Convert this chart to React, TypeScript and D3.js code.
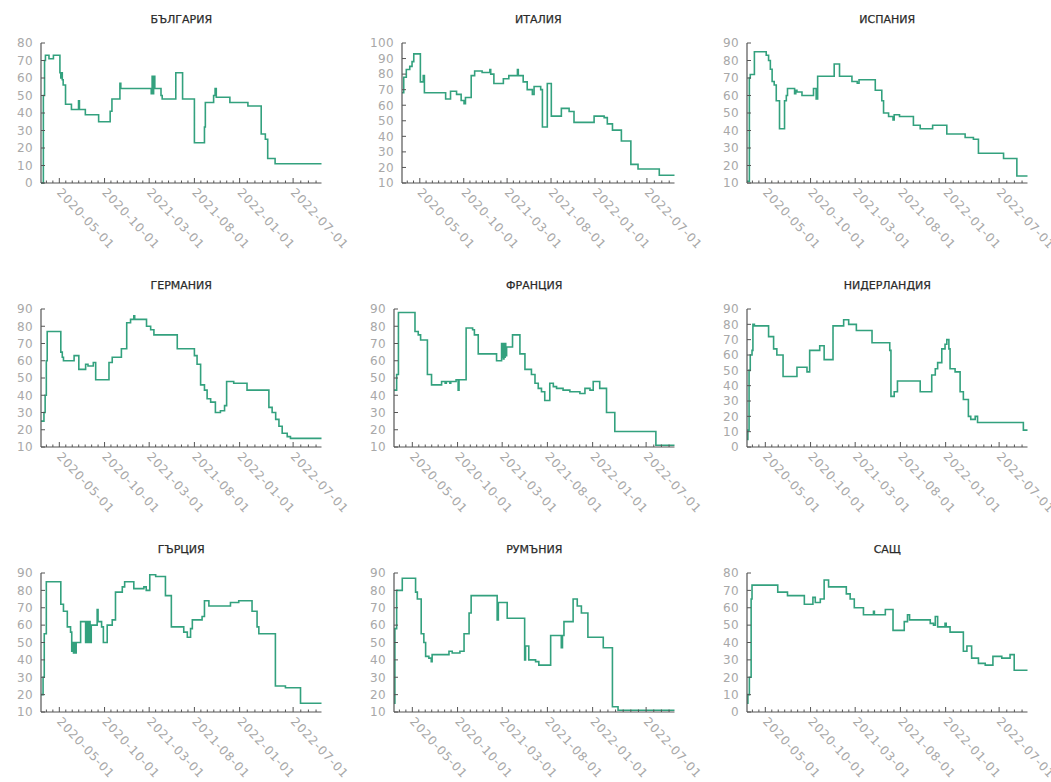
import React from 'react';
import * as d3 from 'd3';

type Pt = [string, number];

const COUNTRIES = ['БЪЛГАРИЯ', 'ИТАЛИЯ', 'ИСПАНИЯ', 'ГЕРМАНИЯ', 'ФРАНЦИЯ', 'НИДЕРЛАНДИЯ', 'ГЪРЦИЯ', 'РУМЪНИЯ', 'САЩ'];
const Y_DOMAINS: [number, number][] = [[0, 80], [10, 100], [10, 90], [10, 90], [10, 90], [0, 90], [10, 90], [10, 90], [0, 80]];
const X_TICKS = ['2020-05-01', '2020-10-01', '2021-03-01', '2021-08-01', '2022-01-01', '2022-07-01'];
const X_START = '2020-02-29';
const X_END = '2022-10-05';

const bulgaria: Pt[] = [['2020-02-29', 0], ['2020-03-08', 50], ['2020-03-12', 70], ['2020-03-15', 73], ['2020-03-27', 71], ['2020-04-11', 73], ['2020-05-03', 63], ['2020-05-06', 60], ['2020-05-09', 63], ['2020-05-11', 59], ['2020-05-14', 56], ['2020-05-22', 45], ['2020-06-11', 42], ['2020-07-05', 47], ['2020-07-08', 42], ['2020-07-28', 39], ['2020-09-11', 35], ['2020-10-20', 41], ['2020-10-26', 48], ['2020-11-22', 57], ['2020-11-25', 54], ['2021-03-08', 51], ['2021-03-11', 61], ['2021-03-14', 51], ['2021-03-16', 61], ['2021-03-20', 54], ['2021-04-10', 50], ['2021-04-14', 48], ['2021-05-30', 63], ['2021-06-22', 48], ['2021-08-01', 23], ['2021-09-04', 32], ['2021-09-07', 46], ['2021-10-05', 50], ['2021-10-10', 54], ['2021-10-14', 49], ['2021-11-29', 46], ['2022-01-29', 44], ['2022-03-15', 28], ['2022-03-29', 25], ['2022-04-06', 14], ['2022-05-01', 11]];

const italy: Pt[] = [['2020-02-29', 68], ['2020-03-06', 78], ['2020-03-15', 83], ['2020-03-27', 85], ['2020-04-04', 88], ['2020-04-10', 93], ['2020-05-03', 75], ['2020-05-13', 79], ['2020-05-17', 68], ['2020-07-30', 64], ['2020-08-16', 69], ['2020-09-06', 67], ['2020-09-22', 63], ['2020-10-02', 61], ['2020-10-07', 65], ['2020-10-27', 79], ['2020-11-08', 82], ['2020-12-04', 81], ['2020-12-31', 83], ['2021-01-03', 80], ['2021-01-14', 74], ['2021-02-16', 77], ['2021-03-07', 79], ['2021-04-06', 83], ['2021-04-09', 79], ['2021-04-26', 75], ['2021-05-10', 70], ['2021-05-28', 67], ['2021-06-03', 72], ['2021-06-26', 70], ['2021-07-02', 46], ['2021-07-19', 74], ['2021-08-02', 53], ['2021-09-06', 58], ['2021-10-03', 56], ['2021-10-20', 49], ['2021-12-29', 53], ['2022-02-02', 52], ['2022-02-13', 48], ['2022-03-03', 44], ['2022-04-03', 37], ['2022-05-06', 22], ['2022-05-31', 19], ['2022-08-13', 15]];

const spain: Pt[] = [['2020-02-29', 11], ['2020-03-08', 70], ['2020-03-11', 72], ['2020-03-25', 85], ['2020-05-04', 83], ['2020-05-12', 80], ['2020-05-18', 75], ['2020-05-24', 68], ['2020-05-31', 66], ['2020-06-07', 57], ['2020-06-18', 41], ['2020-07-05', 57], ['2020-07-11', 60], ['2020-07-15', 64], ['2020-08-08', 61], ['2020-08-12', 63], ['2020-08-16', 62], ['2020-09-02', 60], ['2020-10-11', 64], ['2020-10-20', 58], ['2020-10-25', 71], ['2020-12-20', 78], ['2021-01-07', 71], ['2021-02-18', 68], ['2021-03-08', 67], ['2021-03-14', 69], ['2021-05-08', 63], ['2021-05-30', 57], ['2021-06-05', 50], ['2021-06-22', 48], ['2021-07-07', 46], ['2021-07-11', 49], ['2021-07-29', 48], ['2021-09-14', 43], ['2021-10-07', 41], ['2021-11-18', 43], ['2022-01-05', 38], ['2022-03-08', 36], ['2022-04-05', 35], ['2022-04-22', 27], ['2022-07-16', 24], ['2022-08-30', 14]];

const germany: Pt[] = [['2020-02-29', 25], ['2020-03-10', 30], ['2020-03-14', 40], ['2020-03-18', 60], ['2020-03-21', 77], ['2020-05-06', 65], ['2020-05-11', 62], ['2020-05-15', 60], ['2020-06-20', 63], ['2020-07-06', 55], ['2020-07-29', 58], ['2020-08-06', 57], ['2020-08-24', 59], ['2020-09-01', 49], ['2020-10-16', 59], ['2020-10-27', 62], ['2020-11-27', 67], ['2020-12-15', 82], ['2020-12-28', 84], ['2021-01-08', 86], ['2021-01-11', 84], ['2021-02-20', 80], ['2021-03-06', 78], ['2021-03-17', 75], ['2021-06-04', 67], ['2021-08-01', 63], ['2021-08-10', 58], ['2021-08-22', 46], ['2021-09-04', 43], ['2021-09-13', 38], ['2021-09-25', 36], ['2021-10-11', 30], ['2021-10-28', 31], ['2021-11-11', 34], ['2021-11-18', 48], ['2021-12-12', 47], ['2022-01-26', 43], ['2022-04-10', 33], ['2022-04-21', 30], ['2022-05-03', 26], ['2022-05-14', 22], ['2022-05-25', 18], ['2022-06-11', 16], ['2022-06-22', 15]];

const france: Pt[] = [['2020-02-29', 43], ['2020-03-09', 52], ['2020-03-15', 88], ['2020-05-10', 77], ['2020-05-21', 75], ['2020-05-29', 72], ['2020-06-21', 52], ['2020-07-05', 46], ['2020-08-08', 48], ['2020-08-20', 47], ['2020-08-24', 48], ['2020-09-05', 47], ['2020-09-08', 48], ['2020-09-26', 49], ['2020-10-03', 43], ['2020-10-06', 49], ['2020-10-30', 79], ['2020-11-21', 78], ['2020-11-27', 75], ['2020-12-10', 64], ['2021-02-10', 60], ['2021-02-27', 70], ['2021-03-01', 62], ['2021-03-03', 70], ['2021-03-05', 61], ['2021-03-07', 70], ['2021-03-09', 62], ['2021-03-11', 70], ['2021-03-13', 63], ['2021-03-16', 68], ['2021-04-05', 75], ['2021-04-30', 64], ['2021-05-17', 55], ['2021-06-08', 52], ['2021-06-20', 47], ['2021-07-01', 44], ['2021-07-12', 42], ['2021-07-23', 37], ['2021-08-09', 47], ['2021-08-21', 45], ['2021-09-01', 44], ['2021-09-23', 43], ['2021-10-16', 42], ['2021-11-19', 41], ['2021-12-06', 44], ['2021-12-23', 43], ['2022-01-03', 48], ['2022-01-25', 44], ['2022-02-17', 30], ['2022-03-17', 19], ['2022-08-03', 11]];

const netherlands: Pt[] = [['2020-02-29', 5], ['2020-03-03', 11], ['2020-03-07', 50], ['2020-03-11', 60], ['2020-03-17', 63], ['2020-03-20', 80], ['2020-03-25', 79], ['2020-05-12', 72], ['2020-05-29', 64], ['2020-06-09', 60], ['2020-06-30', 46], ['2020-08-16', 52], ['2020-09-19', 49], ['2020-09-28', 63], ['2020-11-01', 66], ['2020-11-16', 57], ['2020-12-16', 79], ['2021-01-21', 83], ['2021-02-07', 80], ['2021-03-05', 76], ['2021-04-27', 68], ['2021-06-26', 63], ['2021-06-30', 33], ['2021-07-11', 36], ['2021-07-22', 43], ['2021-10-07', 36], ['2021-11-15', 47], ['2021-11-27', 51], ['2021-12-05', 55], ['2021-12-19', 64], ['2021-12-30', 67], ['2022-01-05', 70], ['2022-01-12', 64], ['2022-01-16', 51], ['2022-02-02', 49], ['2022-02-19', 36], ['2022-03-02', 31], ['2022-03-19', 20], ['2022-03-27', 18], ['2022-04-11', 20], ['2022-04-19', 16], ['2022-09-21', 11]];

const greece: Pt[] = [['2020-02-29', 20], ['2020-03-07', 30], ['2020-03-11', 55], ['2020-03-18', 85], ['2020-05-06', 72], ['2020-05-15', 68], ['2020-05-28', 59], ['2020-06-08', 56], ['2020-06-12', 45], ['2020-06-15', 50], ['2020-06-18', 44], ['2020-06-21', 50], ['2020-06-24', 44], ['2020-06-27', 50], ['2020-07-12', 62], ['2020-07-29', 50], ['2020-08-02', 62], ['2020-08-06', 50], ['2020-08-10', 62], ['2020-08-13', 50], ['2020-08-17', 60], ['2020-09-06', 69], ['2020-09-09', 62], ['2020-09-21', 59], ['2020-09-27', 50], ['2020-10-10', 60], ['2020-10-27', 63], ['2020-11-07', 79], ['2020-11-30', 82], ['2020-12-08', 85], ['2021-01-08', 81], ['2021-02-11', 82], ['2021-02-19', 80], ['2021-03-03', 89], ['2021-03-23', 88], ['2021-04-25', 77], ['2021-05-15', 59], ['2021-06-26', 56], ['2021-07-08', 53], ['2021-07-19', 58], ['2021-07-25', 63], ['2021-08-27', 65], ['2021-09-04', 74], ['2021-09-19', 71], ['2021-12-01', 73], ['2021-12-29', 74], ['2022-02-12', 68], ['2022-03-01', 59], ['2022-03-07', 55], ['2022-05-02', 25], ['2022-06-05', 24], ['2022-07-26', 15]];

const romania: Pt[] = [['2020-02-29', 15], ['2020-03-03', 58], ['2020-03-09', 80], ['2020-03-28', 87], ['2020-05-12', 79], ['2020-05-18', 75], ['2020-05-31', 55], ['2020-06-09', 50], ['2020-06-15', 42], ['2020-06-26', 41], ['2020-07-04', 39], ['2020-07-07', 43], ['2020-09-02', 45], ['2020-09-13', 44], ['2020-10-09', 45], ['2020-10-23', 55], ['2020-11-09', 67], ['2020-11-16', 77], ['2021-02-12', 63], ['2021-02-16', 73], ['2021-03-18', 64], ['2021-05-16', 40], ['2021-05-19', 48], ['2021-05-30', 40], ['2021-06-22', 39], ['2021-07-03', 37], ['2021-08-12', 54], ['2021-09-17', 47], ['2021-09-21', 54], ['2021-09-26', 62], ['2021-10-27', 75], ['2021-11-10', 71], ['2021-11-24', 67], ['2021-12-16', 53], ['2022-02-06', 47], ['2022-03-09', 13], ['2022-03-28', 11]];

const usa: Pt[] = [['2020-02-29', 5], ['2020-03-03', 10], ['2020-03-08', 20], ['2020-03-14', 65], ['2020-03-17', 73], ['2020-06-12', 69], ['2020-07-15', 67], ['2020-09-10', 62], ['2020-10-09', 66], ['2020-10-17', 63], ['2020-11-03', 65], ['2020-11-16', 76], ['2020-12-01', 72], ['2021-01-30', 68], ['2021-02-12', 65], ['2021-02-26', 60], ['2021-03-29', 56], ['2021-05-02', 58], ['2021-05-05', 56], ['2021-06-11', 59], ['2021-07-07', 47], ['2021-08-14', 52], ['2021-08-25', 56], ['2021-09-01', 53], ['2021-11-10', 51], ['2021-11-21', 50], ['2021-11-27', 55], ['2021-12-05', 49], ['2021-12-30', 51], ['2022-01-03', 49], ['2022-01-16', 46], ['2022-03-02', 35], ['2022-03-14', 38], ['2022-03-30', 31], ['2022-04-22', 28], ['2022-05-15', 27], ['2022-06-10', 32], ['2022-07-10', 31], ['2022-08-07', 33], ['2022-08-21', 24]];

const SERIES: Pt[][] = [bulgaria, italy, spain, germany, france, netherlands, greece, romania, usa];

const W = 1051;
const H = 782;
const COL_X = [0, 353, 706];
const ROW_TOP = [43, 309, 573];
const ROW_H = [140, 138, 139];
const FONT = '"DejaVu Sans", Verdana, sans-serif';
const LINE = '#33a17e';
const AXIS = '#555';
const LABEL = '#a8a8a8';

const parse = d3.timeParse('%Y-%m-%d');

function Panel({ i }: { i: number }) {
  const col = i % 3;
  const row = Math.floor(i / 3);
  const [y0, y1] = Y_DOMAINS[i];
  const yTicks = d3.range(y0, y1 + 1, 10);
  const maxLen = d3.max(yTicks, (t) => String(t).length) as number;
  const left = COL_X[col] + 25 + maxLen * 8;
  const right = COL_X[col] + 321.5;
  const top = ROW_TOP[row];
  const bottom = top + ROW_H[row];

  const x = d3.scaleTime().domain([parse(X_START)!, parse(X_END)!]).range([left, right]);
  const y = d3.scaleLinear().domain([y0, y1]).range([bottom, top]);

  const data = SERIES[i].map((d) => [parse(d[0])!, d[1]] as [Date, number]);
  data.push([parse(X_END)!, data[data.length - 1][1]]);
  const line = d3
    .line<[Date, number]>()
    .x((d) => x(d[0]))
    .y((d) => y(d[1]))
    .curve(d3.curveStepAfter);

  const majors = X_TICKS.map((t) => x(parse(t)!));
  const minors: number[] = [];
  for (let k = 0; k < majors.length - 1; k++) {
    const step = (majors[k + 1] - majors[k]) / 7;
    for (let j = 1; j < 7; j++) minors.push(majors[k] + j * step);
  }
  const firstStep = (majors[1] - majors[0]) / 7;
  for (let p = majors[0] - firstStep; p > left + 2; p -= firstStep) minors.push(p);
  const lastStep = (majors[majors.length - 1] - majors[majors.length - 2]) / 7;
  for (let p = majors[majors.length - 1] + lastStep; p < right - 2; p += lastStep) minors.push(p);

  return (
    <g>
      <text
        x={(left + right) / 2}
        y={top - 23}
        textAnchor="middle"
        dominantBaseline="middle"
        fontFamily={FONT}
        fontSize={11}
        fill="#2a2a2a"
        stroke="#2a2a2a"
        strokeWidth={0.25}
      >
        {COUNTRIES[i]}
      </text>
      <path d={line(data) || ''} fill="none" stroke={LINE} strokeWidth={1.6} />
      <line x1={left} x2={left} y1={top} y2={bottom} stroke={AXIS} strokeWidth={1.2} />
      <line x1={left} x2={right} y1={bottom} y2={bottom} stroke={AXIS} strokeWidth={1.2} />
      {yTicks.map((t) => (
        <g key={'y' + t}>
          <line x1={left} x2={left + 4} y1={y(t)} y2={y(t)} stroke={AXIS} strokeWidth={1} />
          <text
            x={left - 8}
            y={y(t)}
            dy="0.36em"
            textAnchor="end"
            fontFamily={FONT}
            fontSize={12}
            letterSpacing={0.4}
            fill={LABEL}
          >
            {t}
          </text>
        </g>
      ))}
      {minors.map((p, k) => (
        <line key={'m' + k} x1={p} x2={p} y1={bottom} y2={bottom - 2.5} stroke={AXIS} strokeWidth={1} />
      ))}
      {X_TICKS.map((t, k) => (
        <g key={'x' + t}>
          <line x1={majors[k]} x2={majors[k]} y1={bottom} y2={bottom - 5} stroke={AXIS} strokeWidth={1} />
          <text
            transform={`translate(${majors[k] - 3},${bottom + 10}) rotate(47)`}
            fontFamily={FONT}
            fontSize={12}
            letterSpacing={0.8}
            fill={LABEL}
          >
            {t}
          </text>
        </g>
      ))}
    </g>
  );
}

export default function App() {
  return (
    <svg
      width={W}
      height={H}
      viewBox={`0 0 ${W} ${H}`}
      style={{ position: 'absolute', left: 0, top: 0, background: '#fff' }}
    >
      <rect width={W} height={H} fill="#fff" />
      {COUNTRIES.map((_, i) => (
        <Panel key={i} i={i} />
      ))}
    </svg>
  );
}
